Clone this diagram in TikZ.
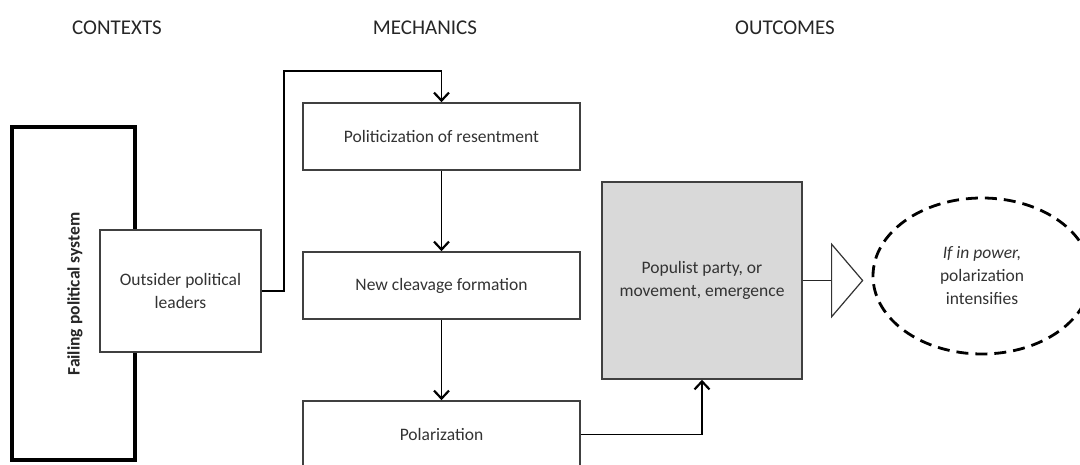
\documentclass[tikz,border=0pt]{standalone}
\usepackage{fontspec}
\setmainfont{Carlito}
\usetikzlibrary{arrows.meta,calc,shapes.geometric}
\begin{document}
\begin{tikzpicture}[x=1pt,y=1pt,
  txt/.style={font=\fontsize{17.5}{23}\selectfont, text=black!80},
  hdr/.style={font=\fontsize{21}{24}\selectfont, text=black!85},
  box/.style={draw=black!75, line width=1.6pt, fill=white, txt, align=center, inner sep=0pt},
  arr/.style={draw=black, line width=1.7pt, -{Straight Barb[length=8pt,width=15pt,line width=2.2pt]}},
  conn/.style={draw=black!85, line width=1.3pt}
]
\useasboundingbox (0,0) rectangle (1080,465);
% headers
\node[hdr] (hc) at (117,437) {CONTEXTS};
\node[hdr] (hm) at (425,437) {MECHANICS};
\node[hdr] (ho) at (785,437) {OUTCOMES};
% contexts
\node[draw=black, line width=3.2pt, minimum width=123pt, minimum height=333pt, inner sep=0pt] (fail) at (73.5,171.5) {};
\node[rotate=90, font=\bfseries\fontsize{17.5}{21}\selectfont, text=black!85] (failt) at (75,171) {Failing political system};
\node[box, minimum width=161pt, minimum height=122pt] (out) at (180.5,174) {Outsider political\\leaders};
% mechanics
\node[box, minimum width=277pt, minimum height=67pt] (pr) at (441.5,328.5) {Politicization of resentment};
\node[box, minimum width=277pt, minimum height=67pt] (nc) at (441.5,179.5) {New cleavage formation};
\node[box, minimum width=277pt, minimum height=67pt] (po) at (441.5,30.5) {Polarization};
% outcomes
\node[box, fill=black!15, minimum width=200pt, minimum height=197pt] (pp) at (702,184.5) {Populist party, or\\movement, emergence};
\node[isosceles triangle, isosceles triangle apex angle=99, draw=black!80, line width=1.2pt, fill=white, minimum height=31pt, minimum width=72pt, inner sep=0pt, anchor=west] (tri) at (831,184.5) {};
\node[ellipse, draw=black, line width=2.8pt, dash pattern=on 12pt off 7pt, minimum width=218pt, minimum height=156pt, txt, align=center, inner sep=0pt] (ell) at (982,189) {\textit{If in power,}\\polarization\\intensifies};
% connectors
\coordinate (c1) at ($(out.east)+(22,0)$);
\coordinate (c2) at ($(pr.north)+(0,31)$);
\draw[arr] (out.east) -- (c1) |- (c2) -- (pr.north);
\draw[arr] (pr.south) -- (nc.north);
\draw[arr] (nc.south) -- (po.north);
\draw[arr] (po.east) -| (pp.south);
\draw[conn] (pp.east) -- (tri.west);
\end{tikzpicture}
\end{document}
